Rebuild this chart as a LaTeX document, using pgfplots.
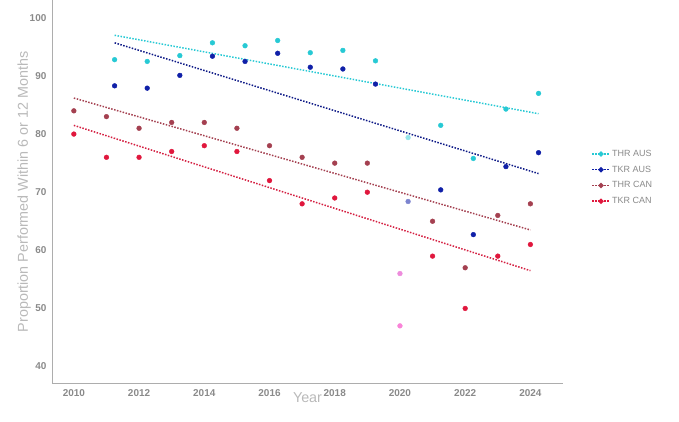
\documentclass[border=0pt]{standalone}
\usepackage{pgfplots}
\pgfplotsset{compat=1.18}
\usepackage{fontspec}
\setmainfont{Liberation Sans}
\definecolor{cy}{HTML}{27C9D4}
\definecolor{nv}{HTML}{1020A8}
\definecolor{tc}{HTML}{A44050}
\definecolor{kc}{HTML}{E0173D}
\definecolor{gt}{HTML}{8A8A8A}
\tikzset{tl/.style={line width=1.5pt, dash pattern=on 1.5pt off 1.5pt}}
\begin{document}
\begin{tikzpicture}
\begin{axis}[scale only axis, width=511bp, height=383bp,
 xmin=2009.33, xmax=2025.0, ymin=37.1, ymax=103,
 axis lines=left, axis line style={gt!70, thick, -},
 xtick={2010,2012,...,2024}, ytick={40,50,...,100},
 tick style={draw=none},
 ticklabel style={font=\bfseries, text=gt},
 /pgf/number format/assume math mode=true,
 /pgf/number format/1000 sep={},
 xlabel={Year}, ylabel={Proportion Performed Within 6 or 12 Months},
 label style={text=gt!60, font=\Large},
 xlabel style={yshift=10pt},
 ylabel style={yshift=-8pt},
 legend style={at={(1.05,0.62)}, anchor=north west, draw=none, font=\small, text=gt, row sep=4pt},
 legend cell align=left,
 clip=false]
\addlegendimage{cy, tl, mark=*, mark size=1.8pt, mark options={solid}}
\addlegendentry{THR AUS}
\addlegendimage{nv, tl, mark=*, mark size=1.8pt, mark options={solid}}
\addlegendentry{TKR AUS}
\addlegendimage{tc, tl, mark=*, mark size=1.8pt, mark options={solid}}
\addlegendentry{THR CAN}
\addlegendimage{kc, tl, mark=*, mark size=1.8pt, mark options={solid}}
\addlegendentry{TKR CAN}
% trend lines
\addplot[cy, tl, forget plot] coordinates {(2011.25,97) (2024.25,83.5)};
\addplot[nv!80!black, tl, forget plot] coordinates {(2011.25,95.7) (2024.25,73.2)};
\addplot[tc, tl, forget plot] coordinates {(2010,86.2) (2024,63.5)};
\addplot[kc!80!tc, tl, forget plot] coordinates {(2010,81.5) (2024,56.5)};
% points
\addplot[only marks, mark=*, mark size=2.4pt, cy, forget plot] coordinates {
(2011.25,92.8)(2012.25,92.5)(2013.25,93.5)(2014.25,95.7)(2015.25,95.2)(2016.25,96.1)(2017.25,94)(2018.25,94.4)(2019.25,92.6)(2021.25,81.5)(2022.25,75.8)(2023.25,84.3)(2024.25,87)};
\addplot[only marks, mark=*, mark size=2.4pt, cy!50, forget plot] coordinates {(2020.25,79.4)};
\addplot[only marks, mark=*, mark size=2.4pt, nv, forget plot] coordinates {
(2011.25,88.3)(2012.25,87.9)(2013.25,90.1)(2014.25,93.4)(2015.25,92.5)(2016.25,93.9)(2017.25,91.5)(2018.25,91.2)(2019.25,88.6)(2021.25,70.4)(2022.25,62.7)(2023.25,74.4)(2024.25,76.8)};
\addplot[only marks, mark=*, mark size=2.4pt, nv!55, forget plot] coordinates {(2020.25,68.4)};
\addplot[only marks, mark=*, mark size=2.4pt, tc, forget plot] coordinates {
(2010,84)(2011,83)(2012,81)(2013,82)(2014,82)(2015,81)(2016,78)(2017,76)(2018,75)(2019,75)(2021,65)(2022,57)(2023,66)(2024,68)};
\addplot[only marks, mark=*, mark size=2.4pt, tc!40!magenta!50, forget plot] coordinates {(2020,56)};
\addplot[only marks, mark=*, mark size=2.4pt, kc, forget plot] coordinates {
(2010,80)(2011,76)(2012,76)(2013,77)(2014,78)(2015,77)(2016,72)(2017,68)(2018,69)(2019,70)(2021,59)(2022,50)(2023,59)(2024,61)};
\addplot[only marks, mark=*, mark size=2.4pt, kc!40!magenta!50, forget plot] coordinates {(2020,47)};
\end{axis}
\path[use as bounding box] (current axis.origin) ++(-52bp,-38bp) rectangle ++(679bp,421bp);
\end{tikzpicture}
\end{document}
